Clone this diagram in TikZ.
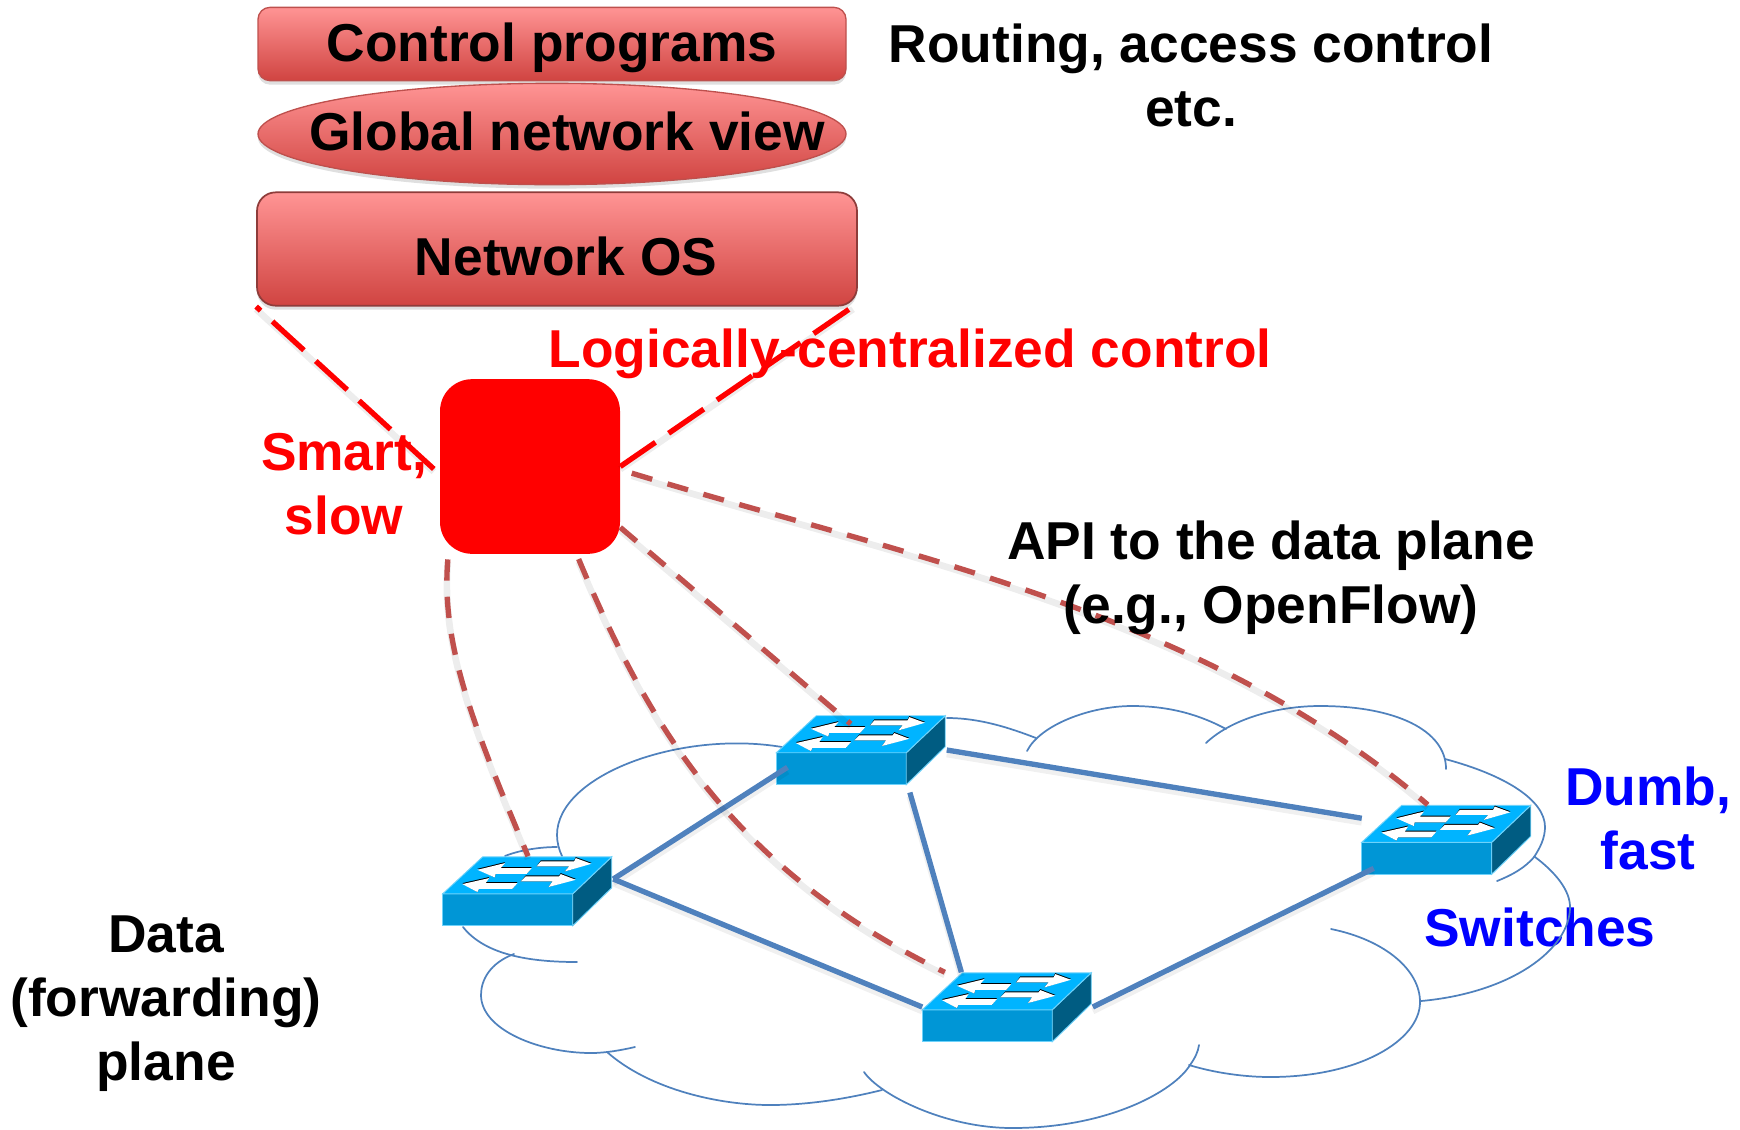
\documentclass[tikz,border=0pt]{standalone}
\usepackage{amsmath,amssymb}
\usepackage{fontspec}
\setmainfont{Liberation Sans}
\usetikzlibrary{shapes.geometric,shadows,calc}

\definecolor{boxtop}{RGB}{255,148,148}
\definecolor{boxbot}{RGB}{208,68,65}
\definecolor{boxedge}{RGB}{190,80,77}
\definecolor{linkblue}{RGB}{79,129,189}
\definecolor{dashbrown}{RGB}{192,80,77}
\definecolor{swtop}{RGB}{0,180,255}
\definecolor{swfront}{RGB}{0,150,214}
\definecolor{swside}{RGB}{0,92,130}
\definecolor{swedge}{RGB}{110,210,250}

\newcommand{\swflow}[7]{%
\fill [black] ($#1+(0,-1)$) -- ($#2+(0,-1)$) -- ($#3+(0,-1)$) -- ($#4+(0,-1)$) -- #5 -- #6 -- #7 -- cycle;
\fill [white] #1 -- #2 -- #3 -- #4 -- #5 -- #6 -- #7 -- cycle;
}

\tikzset{
  labeltext/.style={font=\fontsize{40}{48}\selectfont\bfseries,align=center,inner sep=0pt},
  redbox/.style={draw=boxedge,line width=1pt,top color=boxtop,bottom color=boxbot,drop shadow={shadow xshift=0pt,shadow yshift=-3pt,opacity=.25},inner sep=0pt},
  cloudline/.style={draw=linkblue,line width=1.3pt,line cap=round},
  link/.style={draw=linkblue,line width=4pt,preaction={draw=black,opacity=.06,line width=5pt,transform canvas={yshift=-3pt}}},
  ctrldash/.style={draw=dashbrown,line width=4pt,dash pattern=on 16pt off 12pt,preaction={draw=black,opacity=.07,line width=5pt,transform canvas={yshift=-2pt}}},
  osdash/.style={draw=red,line width=4pt,dash pattern=on 32pt off 12pt,preaction={draw=black,opacity=.07,line width=5pt,transform canvas={yshift=-2pt}}},
  switchnode/.style={minimum width=127.5pt,minimum height=51.75pt,inner sep=0pt},
  pics/switchbox/.style={code={
    \filldraw [fill=swfront,draw=swedge,line width=.7pt] (0,0) rectangle (130,-32);
    \filldraw [fill=swside,draw=swedge,line width=.7pt] (130,0) -- (130,-32) -- (169,-69) -- (169,-38) -- cycle;
    \filldraw [fill=swtop,draw=swedge,line width=.7pt] (0,-32) -- (130,-32) -- (169,-69) -- (40,-69) -- cycle;
    \swflow{(34.7,-56)}{(62.3,-62.7)}{(58,-57.7)}{(89,-57.7)}{(84,-52)}{(53,-52)}{(52,-48.3)}
    \swflow{(19.7,-41.7)}{(46.3,-47.7)}{(43,-42.7)}{(74.7,-42.7)}{(69.7,-37)}{(36.3,-37)}{(34.7,-33.7)}
    \swflow{(148.7,-62)}{(133,-67.7)}{(131.3,-64.3)}{(98,-64.3)}{(93.7,-59.3)}{(126.3,-59.3)}{(122,-54.3)}
    \swflow{(133,-46)}{(118,-51.7)}{(116.3,-49.3)}{(83,-49.3)}{(78,-44.3)}{(109.7,-44.3)}{(105.7,-38.7)}
  }}
}

\begin{document}
\begin{tikzpicture}[x=0.75pt,y=0.75pt,yscale=-1,xscale=1]
\useasboundingbox (0,0) rectangle (1740,1129);

% Text Node
\node [labeltext,text=blue] (switcheslabel) at (1540,927) {Switches};

%Cloud outline
\draw [cloudline] (782,747) .. controls (680,730) and (557,775) .. (557,835) .. controls (557,842) and (559,850) .. (562,856);
\draw [cloudline] (557,847) .. controls (540,847) and (520,850) .. (505,856);
\draw [cloudline] (463,927) .. controls (485,955) and (530,962) .. (577,962);
\draw [cloudline] (514,954) .. controls (490,963) and (481,980) .. (481,995) .. controls (481,1030) and (540,1053) .. (591,1053) .. controls (606,1053) and (622,1050) .. (635,1047);
\draw [cloudline] (607,1052) .. controls (650,1090) and (720,1105) .. (770,1105) .. controls (810,1105) and (850,1098) .. (882,1090);
\draw [cloudline] (864,1072) .. controls (880,1095) and (945,1128) .. (1012,1128) .. controls (1110,1128) and (1175,1090) .. (1190,1065) .. controls (1195,1058) and (1198,1052) .. (1199,1045);
\draw [cloudline] (1189,1065) .. controls (1215,1073) and (1245,1077) .. (1270,1077) .. controls (1360,1077) and (1420,1040) .. (1420,1002) .. controls (1420,970) and (1385,940) .. (1331,929);
\draw [cloudline] (1421,1001) .. controls (1510,993) and (1570,950) .. (1570,907) .. controls (1570,890) and (1555,872) .. (1535,857);
\draw [cloudline] (1535,856) .. controls (1525,868) and (1512,875) .. (1497,881);
\draw [cloudline] (1445,759) .. controls (1505,775) and (1545,800) .. (1545,827) .. controls (1545,838) and (1540,848) .. (1534,857);
\draw [cloudline] (1446,769) .. controls (1446,730) and (1395,706) .. (1320,706) .. controls (1275,706) and (1230,720) .. (1206,743);
\draw [cloudline] (1226,729) .. controls (1200,715) and (1170,706) .. (1132,706) .. controls (1090,706) and (1040,725) .. (1027,751);
\draw [cloudline] (1036,738) .. controls (1010,728) and (980,718) .. (947,718);

%Switches
\node [switchnode] (swA) at (528,891) {};
\node [switchnode] (swB) at (861.5,750) {};
\node [switchnode] (swC) at (1007.5,1007) {};
\node [switchnode] (swD) at (1447,839.5) {};
\pic [transform shape] at (swA.south west) {switchbox};
\pic [transform shape] at (swB.south west) {switchbox};
\pic [transform shape] at (swC.south west) {switchbox};
\pic [transform shape] at (swD.south west) {switchbox};

%Straight Lines
\draw [link,shorten >=-10pt] (swA.8) -- (swB.196);
\draw [link] (swA.8) -- (swC.west);
\draw [link,shorten <=6pt] (swB.-37) -- (swC.143);
\draw [link] (swB.east) -- (swD.166);
\draw [link,shorten >=-10pt] (swC.east) -- (swD.south west);

% Control boxes
\node [redbox,rounded corners=9pt,minimum width=441pt,minimum height=55pt] (ctrlprog) at (552,44) {};
\node [redbox,ellipse,minimum width=441pt,minimum height=76pt] (netview) at (552,134) {};
\node [redbox,rounded corners=14pt,draw=boxedge!75!black,line width=1.3pt,minimum width=450pt,minimum height=85pt] (netos) at (557,249) {};
\node [fill=red,rounded corners=24pt,minimum width=135pt,minimum height=131pt,inner sep=0pt] (ctrlbox) at (530,466.5) {};

%Dashed Lines
\draw [osdash,shorten <=6pt] (ctrlbox.185) -- (netos.south west);
\draw [osdash] (ctrlbox.east) -- (netos.-11);
\draw [ctrldash,shorten <=4pt] (ctrlbox.227) .. controls (440,650) and (480,740) .. (swA.north);
\draw [ctrldash,shorten <=4pt] (ctrlbox.-62) .. controls (650,730) and (735,870) .. (swC.151);
\draw [ctrldash,shorten >=-10pt] (ctrlbox.-34) -- (swB.121);
\draw [ctrldash,shorten <=9pt] (ctrlbox.-2) .. controls (900,555) and (1200,610) .. (swD.119);

% Text Node
\node [labeltext] (ctrltext) at (552,48) {Control programs};
\node [labeltext] (viewtext) at (567,131) {Global network view};
\node [labeltext] (ostext) at (566,256) {Network OS};
\node [labeltext] (routing) at (1191,75) {Routing, access control\\etc.};
\node [labeltext,text=red] (logical) at (910,354) {Logically-centralized control};
\node [labeltext,text=red] (smart) at (344,484) {Smart,\\slow};
\node [labeltext] (api) at (1271,578) {API to the data plane\\(e.g., OpenFlow)};
\node [labeltext,text=blue] (dumb) at (1648,818) {Dumb,\\fast};
\node [labeltext] (dataplane) at (166,1004) {Data\\(forwarding)\\plane};

\end{tikzpicture}
\end{document}
